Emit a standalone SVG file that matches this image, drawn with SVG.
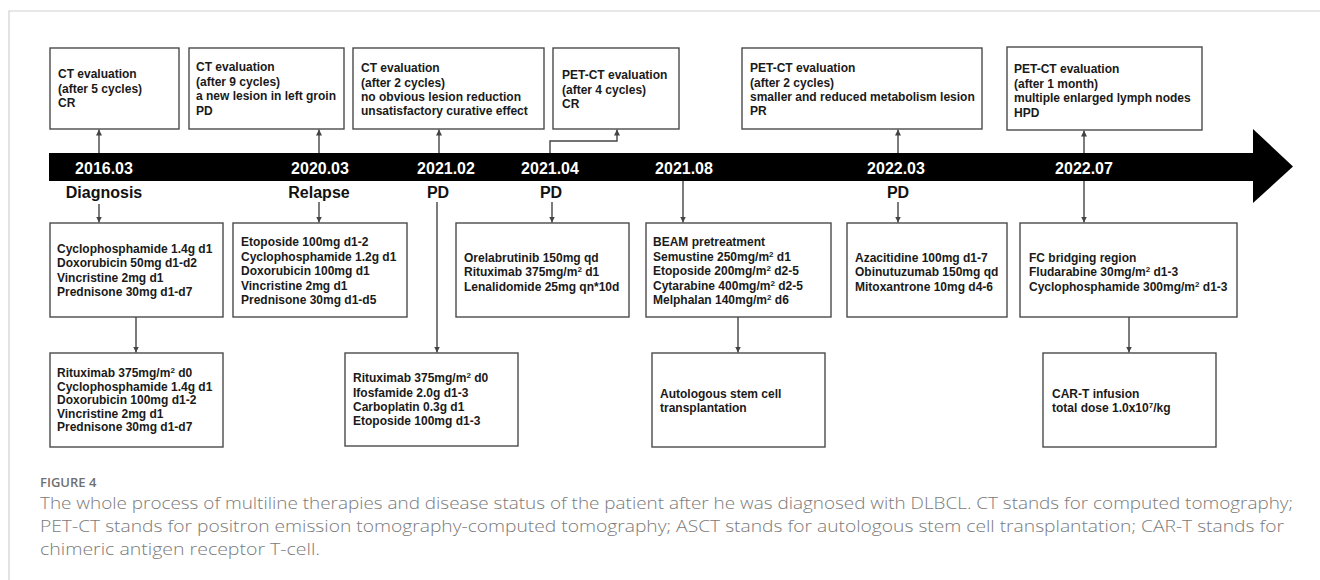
<svg xmlns="http://www.w3.org/2000/svg" width="1320" height="580" viewBox="0 0 1320 580">
<style>
.box{fill:#fff;stroke:#4a4a4a;stroke-width:1.4}
.t{font-family:"Liberation Sans",Arial,sans-serif;font-weight:bold;font-size:12px;fill:#1a1a1a}
.date{font-family:"Liberation Sans",Arial,sans-serif;font-weight:bold;font-size:16px;fill:#fff;text-anchor:middle}
.lab{font-family:"Liberation Sans",Arial,sans-serif;font-weight:bold;font-size:16px;fill:#111;text-anchor:middle}
.c{fill:none;stroke:#444;stroke-width:1.4;marker-end:url(#ah)}
.cap{font-family:"Open Sans","Liberation Sans",sans-serif;font-size:16px;font-weight:300;fill:#7a7a7a}
.sup{font-size:8px}
</style>
<defs>
<marker id="ah" viewBox="0 0 10 10" refX="10" refY="5" markerWidth="6" markerHeight="6" markerUnits="userSpaceOnUse" orient="auto">
<path d="M0,0 L10,5 L0,10 z" fill="#444"/>
</marker>
</defs>
<rect width="1320" height="580" fill="#fff"/>
<path d="M9,580 V11 H1320" fill="none" stroke="#d0d0d0" stroke-width="1.2"/>

<g id="timeline">
<rect x="49" y="153" width="1205" height="28" fill="#000"/>
<path d="M1253,129 L1293,166.5 L1253,203 z" fill="#000"/>
<text class="date" x="104" y="174">2016.03</text>
<text class="date" x="320" y="174">2020.03</text>
<text class="date" x="446" y="174">2021.02</text>
<text class="date" x="550" y="174">2021.04</text>
<text class="date" x="684" y="174">2021.08</text>
<text class="date" x="896" y="174">2022.03</text>
<text class="date" x="1084" y="174">2022.07</text>
<text class="lab" x="104" y="198">Diagnosis</text>
<text class="lab" x="319" y="198">Relapse</text>
<text class="lab" x="438" y="198">PD</text>
<text class="lab" x="551" y="198">PD</text>
<text class="lab" x="898" y="198">PD</text>
</g>

<g id="connectors">
<path class="c" d="M99,153 V129.5"/>
<path class="c" d="M319,153 V129.5"/>
<path class="c" d="M439,153 V129.5"/>
<path class="c" d="M550,153 V141 H617 V129.5"/>
<path class="c" d="M898,153 V129.5"/>
<path class="c" d="M1084,153 V130.5"/>
<path class="c" d="M99,204 V222.5"/>
<path class="c" d="M319,202 V222.5"/>
<path class="c" d="M437,202 V352.5"/>
<path class="c" d="M552,202 V222.5"/>
<path class="c" d="M683,181 V222.5"/>
<path class="c" d="M898,202 V222.5"/>
<path class="c" d="M1084,181 V222.5"/>
<path class="c" d="M136,317 V352.5"/>
<path class="c" d="M738,317 V352.5"/>
<path class="c" d="M1129,317 V352.5"/>
</g>

<g id="top1">
<rect class="box" x="50" y="48" width="129" height="81"/>
<text class="t" x="58" y="78">CT evaluation</text>
<text class="t" x="58" y="92.5">(after 5 cycles)</text>
<text class="t" x="58" y="107">CR</text>
</g>
<g id="top2">
<rect class="box" x="189" y="48" width="155" height="81"/>
<text class="t" x="196" y="71">CT evaluation</text>
<text class="t" x="196" y="86">(after 9 cycles)</text>
<text class="t" x="196" y="100">a new lesion in left groin</text>
<text class="t" x="196" y="115">PD</text>
</g>
<g id="top3">
<rect class="box" x="353" y="48" width="191" height="81"/>
<text class="t" x="361" y="72">CT evaluation</text>
<text class="t" x="361" y="86.5">(after 2 cycles)</text>
<text class="t" x="361" y="101">no obvious lesion reduction</text>
<text class="t" x="361" y="115">unsatisfactory curative effect</text>
</g>
<g id="top4">
<rect class="box" x="553" y="48" width="126" height="81"/>
<text class="t" x="562" y="79">PET-CT evaluation</text>
<text class="t" x="562" y="94">(after 4 cycles)</text>
<text class="t" x="562" y="108">CR</text>
</g>
<g id="top5">
<rect class="box" x="742" y="48" width="240" height="81"/>
<text class="t" x="750" y="72">PET-CT evaluation</text>
<text class="t" x="750" y="86.5">(after 2 cycles)</text>
<text class="t" x="750" y="101">smaller and reduced metabolism lesion</text>
<text class="t" x="750" y="115">PR</text>
</g>
<g id="top6">
<rect class="box" x="1007" y="47" width="195" height="83"/>
<text class="t" x="1014" y="73">PET-CT evaluation</text>
<text class="t" x="1014" y="88">(after 1 month)</text>
<text class="t" x="1014" y="102">multiple enlarged lymph nodes</text>
<text class="t" x="1014" y="117">HPD</text>
</g>

<g id="b1">
<rect class="box" x="50" y="223" width="173" height="94"/>
<text class="t" x="57" y="253">Cyclophosphamide 1.4g d1</text>
<text class="t" x="57" y="267">Doxorubicin 50mg d1-d2</text>
<text class="t" x="57" y="282">Vincristine 2mg d1</text>
<text class="t" x="57" y="296">Prednisone 30mg d1-d7</text>
</g>
<g id="b2">
<rect class="box" x="233" y="223" width="174" height="94"/>
<text class="t" x="241" y="246">Etoposide 100mg d1-2</text>
<text class="t" x="241" y="261">Cyclophosphamide 1.2g d1</text>
<text class="t" x="241" y="275">Doxorubicin 100mg d1</text>
<text class="t" x="241" y="290">Vincristine 2mg d1</text>
<text class="t" x="241" y="304">Prednisone 30mg d1-d5</text>
</g>
<g id="b3">
<rect class="box" x="456" y="223" width="173" height="94"/>
<text class="t" x="464" y="262">Orelabrutinib 150mg qd</text>
<text class="t" x="464" y="276">Rituximab 375mg/m<tspan class="sup" dy="-4">2</tspan><tspan dy="4"> d1</tspan></text>
<text class="t" x="464" y="291">Lenalidomide 25mg qn*10d</text>
</g>
<g id="b4">
<rect class="box" x="646" y="223" width="185" height="94"/>
<text class="t" x="653" y="246">BEAM pretreatment</text>
<text class="t" x="653" y="261">Semustine 250mg/m<tspan class="sup" dy="-4">2</tspan><tspan dy="4"> d1</tspan></text>
<text class="t" x="653" y="275">Etoposide 200mg/m<tspan class="sup" dy="-4">2</tspan><tspan dy="4"> d2-5</tspan></text>
<text class="t" x="653" y="290">Cytarabine 400mg/m<tspan class="sup" dy="-4">2</tspan><tspan dy="4"> d2-5</tspan></text>
<text class="t" x="653" y="304">Melphalan 140mg/m<tspan class="sup" dy="-4">2</tspan><tspan dy="4"> d6</tspan></text>
</g>
<g id="b5">
<rect class="box" x="847" y="223" width="160" height="94"/>
<text class="t" x="855" y="262">Azacitidine 100mg d1-7</text>
<text class="t" x="855" y="276">Obinutuzumab 150mg qd</text>
<text class="t" x="855" y="291">Mitoxantrone 10mg d4-6</text>
</g>
<g id="b6">
<rect class="box" x="1020" y="223" width="217" height="94"/>
<text class="t" x="1029" y="262">FC bridging region</text>
<text class="t" x="1029" y="276">Fludarabine 30mg/m<tspan class="sup" dy="-4">2</tspan><tspan dy="4"> d1-3</tspan></text>
<text class="t" x="1029" y="291">Cyclophosphamide 300mg/m<tspan class="sup" dy="-4">2</tspan><tspan dy="4"> d1-3</tspan></text>
</g>

<g id="b1b">
<rect class="box" x="50" y="353" width="173" height="94"/>
<text class="t" x="57" y="377">Rituximab 375mg/m<tspan class="sup" dy="-4">2</tspan><tspan dy="4"> d0</tspan></text>
<text class="t" x="57" y="390.5">Cyclophosphamide 1.4g d1</text>
<text class="t" x="57" y="404">Doxorubicin 100mg d1-2</text>
<text class="t" x="57" y="417.5">Vincristine 2mg d1</text>
<text class="t" x="57" y="431">Prednisone 30mg d1-d7</text>
</g>
<g id="b3b">
<rect class="box" x="345" y="353" width="173" height="93"/>
<text class="t" x="353" y="382">Rituximab 375mg/m<tspan class="sup" dy="-4">2</tspan><tspan dy="4"> d0</tspan></text>
<text class="t" x="353" y="397">Ifosfamide 2.0g d1-3</text>
<text class="t" x="353" y="411">Carboplatin 0.3g d1</text>
<text class="t" x="353" y="425">Etoposide 100mg d1-3</text>
</g>
<g id="b4b">
<rect class="box" x="652" y="353" width="173" height="94"/>
<text class="t" x="660" y="398">Autologous stem cell</text>
<text class="t" x="660" y="412">transplantation</text>
</g>
<g id="b6b">
<rect class="box" x="1043" y="353" width="173" height="94"/>
<text class="t" x="1052" y="398">CAR-T infusion</text>
<text class="t" x="1052" y="412">total dose 1.0x10<tspan class="sup" dy="-4">7</tspan><tspan dy="4">/kg</tspan></text>
</g>

<g id="caption">
<text x="40" y="487" font-family="'Open Sans','Liberation Sans',sans-serif" font-size="13" font-weight="600" fill="#707070">FIGURE 4</text>
<text class="cap" x="40" y="509" textLength="1253" lengthAdjust="spacingAndGlyphs">The whole process of multiline therapies and disease status of the patient after he was diagnosed with DLBCL. CT stands for computed tomography;</text>
<text class="cap" x="40" y="532" textLength="1244" lengthAdjust="spacingAndGlyphs">PET-CT stands for positron emission tomography-computed tomography; ASCT stands for autologous stem cell transplantation; CAR-T stands for</text>
<text class="cap" x="40" y="555" textLength="280" lengthAdjust="spacingAndGlyphs">chimeric antigen receptor T-cell.</text>
</g>
</svg>
